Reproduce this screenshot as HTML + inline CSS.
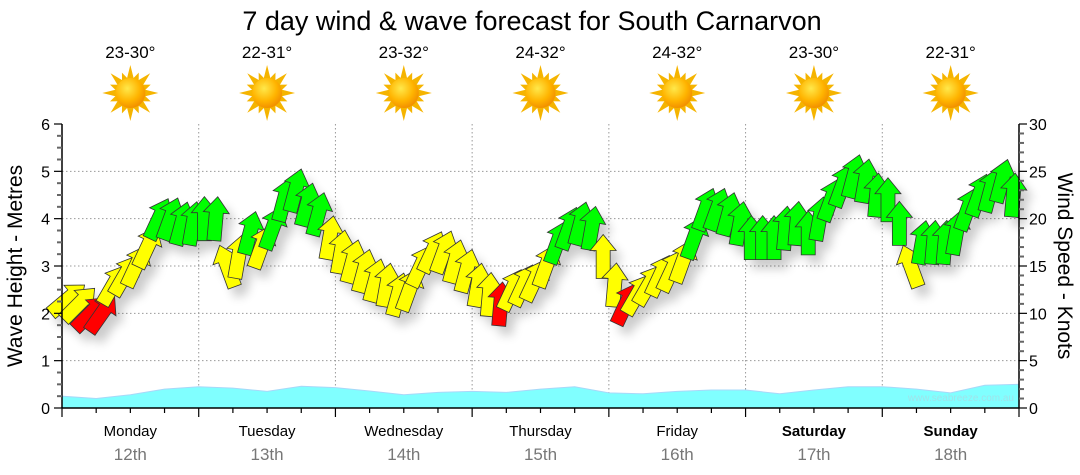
<!DOCTYPE html>
<html><head><meta charset="utf-8">
<style>
html,body{margin:0;padding:0;background:#fff;}
svg{display:block;font-family:"Liberation Sans",Verdana,sans-serif;}
</style></head>
<body>
<svg id="chart" width="1080" height="475" viewBox="0 0 1080 475" xmlns="http://www.w3.org/2000/svg">
<defs>
<radialGradient id="sunG" cx="0.4" cy="0.35" r="0.7">
<stop offset="0" stop-color="#ffe84a"/><stop offset="0.6" stop-color="#ffb400"/><stop offset="1" stop-color="#f08a00"/>
</radialGradient>
<filter id="sh" x="-50%" y="-50%" width="200%" height="200%"><feGaussianBlur stdDeviation="5"/></filter>
</defs>
<text x="532" y="30" font-size="27" text-anchor="middle" fill="#000">7 day wind &amp; wave forecast for South Carnarvon</text>
<g id="top"></g>
<g id="grid"></g>
<g id="wave"></g>
<g id="shadows" filter="url(#sh)" opacity="0.2"></g>
<g id="arrows"></g>
<g id="axes"></g>
<text x="1014" y="401" font-size="10" text-anchor="end" fill="#9fe3ea">www.seabreeze.com.au</text>
<text transform="translate(22,266) rotate(-90)" font-size="21" text-anchor="middle">Wave Height - Metres</text>
<text transform="translate(1058,266) rotate(90)" font-size="21" text-anchor="middle">Wind Speed - Knots</text>
</svg>
<script>
const days = ["Monday","Tuesday","Wednesday","Thursday","Friday","Saturday","Sunday"];
const dates = ["12th","13th","14th","15th","16th","17th","18th"];
const temps = ["23-30°","22-31°","23-32°","24-32°","24-32°","23-30°","22-31°"];
const boldDays = [false,false,false,false,false,true,true];
const leftTicks = [0,1,2,3,4,5,6];
const rightTicks = [0,5,10,15,20,25,30];
const windSpeed = [11.5,11,10,10,13,14,15,17,20,20,19.5,19.5,
 20,20,15,16,18.5,17,19,22,23,21.5,20.5,18,
 16.5,15.5,14.5,13.5,13,12,12.5,15,16.5,16.5,15.5,14.5,
 13,12,11,12.5,13,13.5,15,17.5,19,19.5,19,16,
 13,11,12,13,14,14.5,15.5,18,21,21,20.5,19.5,
 18,18,18,19,19.5,18.5,20,22,23.5,24.5,24,22.5,
 22,19.5,15,17.5,17.5,17.5,18.5,21,22.5,23,24,22.5];
const windDir = [50,45,45,35,30,30,25,25,25,20,15,10,
 0,5,-20,10,15,20,20,15,15,15,15,10,
 10,15,15,15,10,15,20,25,25,20,15,15,
 10,5,5,25,25,25,20,20,20,15,10,0,
 5,25,30,30,25,25,20,20,20,20,15,10,
 0,0,0,5,5,0,10,20,20,15,10,5,
 0,0,-20,10,5,5,10,20,20,15,15,5];
const windColor = ["y","y","r","r","y","y","y","y","g","g","g","g",
 "g","g","y","y","g","y","g","g","g","g","g","y",
 "y","y","y","y","y","y","y","y","y","y","y","y",
 "y","y","r","y","y","y","y","g","g","g","g","y",
 "y","r","y","y","y","y","y","g","g","g","g","g",
 "g","g","g","g","g","g","g","g","g","g","g","g",
 "g","g","y","g","g","g","g","g","g","g","g","g"];
const waveHeight = [0.25,0.2,0.28,0.4,0.45,0.42,0.35,0.46,0.43,0.36,0.28,0.33,0.35,0.33,0.4,0.45,0.32,0.3,0.35,0.38,0.38,0.3,0.38,0.45,0.45,0.4,0.32,0.48,0.5];

const X0=62, X1=1019, Y0=408, Y1=124;
const dayW=(X1-X0)/7;
const yM = m => Y0 - (Y0-Y1)*m/6;
const yK = k => Y0 - (Y0-Y1)*k/30;
const xH = h => X0 + dayW*h/24;
const NS="http://www.w3.org/2000/svg";
function mk(tag, parent, attrs){const e=document.createElementNS(NS,tag);for(const k in attrs)e.setAttribute(k,attrs[k]);parent.appendChild(e);return e;}
const gTop=document.getElementById('top'), gGrid=document.getElementById('grid'), gWave=document.getElementById('wave'),
 gSh=document.getElementById('shadows'), gAr=document.getElementById('arrows'), gAx=document.getElementById('axes');

days.forEach((d,i)=>{
  const cx = X0+dayW*(i+0.5);
  const t=mk('text',gTop,{x:cx,y:58,'font-size':17,'text-anchor':'middle'});
  t.textContent=temps[i];
  
  
  const s=mk('g',gTop,{transform:`translate(${cx},93)`});
  
  
  for(let r=0;r<16;r++){
    const a=r*Math.PI/8, L=(r%2?22:28);
    const ax=Math.cos(a), ay=Math.sin(a), px=-ay, py=ax;
    mk('polygon',s,{points:`${ax*L},${ay*L} ${ax*12+px*4},${ay*12+py*4} ${ax*12-px*4},${ay*12-py*4}`,fill:'#f5b400'});
  }
  mk('circle',s,{r:15,fill:'url(#sunG)'});
  const dn=mk('text',gTop,{x:cx,y:436,'font-size':15,'text-anchor':'middle','font-weight':boldDays[i]?'bold':'normal'});
  dn.textContent=d;
  
  
  const dt=mk('text',gTop,{x:cx,y:460,'font-size':17,'text-anchor':'middle',fill:'#777'});
  dt.textContent=dates[i];
  
  
});

leftTicks.forEach(v=>{ if(v>0&&v<6) mk('line',gGrid,{x1:X0,x2:X1,y1:yM(v),y2:yM(v),stroke:'#999','stroke-dasharray':'1.5,2.5','stroke-width':1}); });
for(let i=1;i<7;i++){ const x=X0+dayW*i; mk('line',gGrid,{x1:x,x2:x,y1:Y1,y2:Y0,stroke:'#999','stroke-dasharray':'1.5,2.5','stroke-width':1}); }

let d=`M${X0},${Y0}`;
waveHeight.forEach((v,i)=>{ d+=` L${xH(i*6).toFixed(1)},${yM(v).toFixed(1)}`; });
d+=` L${xH((waveHeight.length-1)*6)},${Y0} Z`;
const wp=mk('path',gWave,{d:d,fill:'#80ffff',stroke:'#a8d8f8','stroke-width':1});



const cols={y:'#ffff00',g:'#00ff00',r:'#ff0000'};
const shape="0,-22 13,-6 7,-6 7,22 -7,22 -7,-6 -13,-6";
windSpeed.forEach((k,i)=>{
  const x=xH(i*2+1), y=yK(k);
  mk('polygon',gSh,{points:shape,transform:`translate(${x+7},${y+9}) rotate(${windDir[i]})`,fill:'#000'});
  const a=mk('polygon',gAr,{points:shape,transform:`translate(${x},${y}) rotate(${windDir[i]})`,fill:cols[windColor[i]],stroke:'#333','stroke-width':0.8});
  
  
});

mk('line',gAx,{x1:X0,x2:X0,y1:Y1,y2:Y0,stroke:'#000','stroke-width':1.5});
mk('line',gAx,{x1:X1,x2:X1,y1:Y1,y2:Y0,stroke:'#000','stroke-width':1.5});
mk('line',gAx,{x1:X0,x2:X1,y1:Y0,y2:Y0,stroke:'#000','stroke-width':1.5});
for(let q=0;q<=24;q++){ const y=yM(q/4); mk('line',gAx,{x1:X0-(q%4?5:8),x2:X0,y1:y,y2:y,stroke:q%4?'#666':'#000','stroke-width':q%4?2:1.2}); }
leftTicks.forEach(v=>{ const t=mk('text',gAx,{x:X0-12,y:yM(v)+6,'font-size':16,'text-anchor':'end'}); t.textContent=v;
    });
for(let k=0;k<=30;k++){ const y=yK(k); mk('line',gAx,{x1:X1,x2:X1+(k%5?5:8),y1:y,y2:y,stroke:k%5?'#666':'#000','stroke-width':k%5?2:1.2}); }
rightTicks.forEach(v=>{ const t=mk('text',gAx,{x:X1+10,y:yK(v)+6,'font-size':16,'text-anchor':'start'}); t.textContent=v;
    });
for(let h=0;h<=168;h+=6){ const x=xH(h); mk('line',gAx,{x1:x,x2:x,y1:Y0,y2:Y0+(h%24?5:9),stroke:'#000','stroke-width':1.2}); }
</script>
</body></html>
